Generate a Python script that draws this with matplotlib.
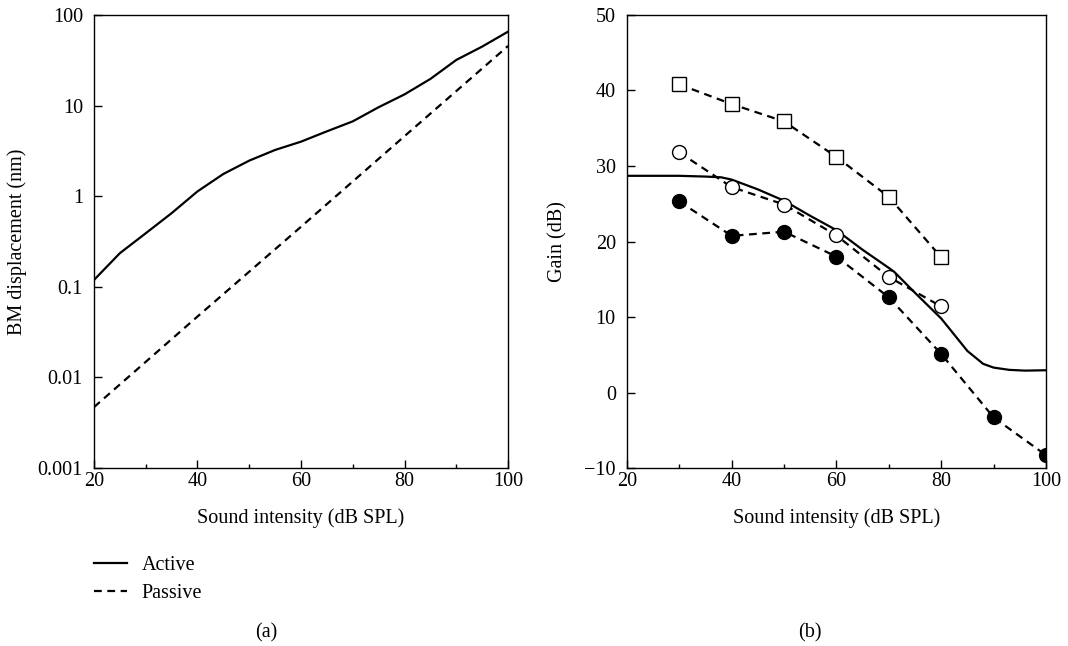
import numpy as np
import matplotlib
matplotlib.use('Agg')
from matplotlib import pyplot as plt
from matplotlib.ticker import MultipleLocator, NullLocator, FixedFormatter

plt.rcParams['font.family'] = ['Liberation Serif', 'DejaVu Serif']
plt.rcParams['font.size'] = 14.5

# (a) BM displacement vs sound intensity
x_active = [20, 25, 30, 35, 40, 45, 50, 55, 60, 65, 70, 75, 80, 85, 90, 95, 100]
bm_active = [0.119, 0.235, 0.39, 0.65, 1.13, 1.76, 2.47, 3.24, 4.0, 5.2, 6.7, 9.6,
             13.3, 19.7, 31.9, 44.8, 65.5]
x_passive = [20, 40, 60, 80, 100]
bm_passive = [0.0047, 0.047, 0.46, 4.6, 45.5]

# (b) gain vs sound intensity
x_model = [20, 30, 35, 38, 40, 45, 50, 55, 60, 65, 70, 71, 75, 80, 85, 88, 90, 93, 96, 100]
gain_model = [28.7, 28.7, 28.6, 28.5, 28.2, 26.9, 25.4, 23.4, 21.5, 18.9, 16.5, 16.0,
              13.2, 9.8, 5.5, 3.8, 3.3, 3.0, 2.9, 2.95]
x_sq = [30, 40, 50, 60, 70, 80]
gain_sq = [40.8, 38.2, 35.9, 31.2, 25.9, 17.9]
x_oc = [30, 40, 50, 60, 70, 80]
gain_oc = [31.8, 27.2, 24.9, 20.8, 15.3, 11.4]
x_fc = [30, 40, 50, 60, 70, 80, 90, 100]
gain_fc = [25.3, 20.75, 21.3, 18.0, 12.6, 5.1, -3.3, -8.3]

dash = (0, (3.5, 2.5))

fig = plt.figure(figsize=(10.68, 6.46), dpi=100)
ax1 = fig.add_axes([0.088, 0.2755, 0.3877, 0.7013])
ax2 = fig.add_axes([0.587, 0.2755, 0.3924, 0.7013])

l1, = ax1.plot(x_active, bm_active, color='black', lw=1.6, label='Active')
l2, = ax1.plot(x_passive, bm_passive, color='black', lw=1.6, ls=dash, label='Passive')
ax1.set_yscale('log')
ax1.set_xlim(20, 100)
ax1.set_ylim(0.001, 100)
ax1.set_yticks([0.001, 0.01, 0.1, 1, 10, 100])
ax1.yaxis.set_major_formatter(FixedFormatter(['0.001', '0.01', '0.1', '1', '10', '100']))
ax1.yaxis.set_minor_locator(NullLocator())
ax1.set_ylabel('BM displacement (nm)', labelpad=8)
ax1.set_xlabel('Sound intensity (dB SPL)', labelpad=12)

ax2.plot(x_model, gain_model, color='black', lw=1.6)
ax2.plot(x_sq, gain_sq, color='black', lw=1.6, ls=dash, marker='s', ms=10,
         mfc='white', mec='black', mew=1.0)
ax2.plot(x_oc, gain_oc, color='black', lw=1.6, ls=dash, marker='o', ms=10,
         mfc='white', mec='black', mew=1.0)
ax2.plot(x_fc, gain_fc, color='black', lw=1.6, ls=dash, marker='o', ms=10,
         mfc='black', mec='black')
ax2.set_xlim(20, 100)
ax2.set_ylim(-10, 50)
ax2.yaxis.set_major_locator(MultipleLocator(10))
ax2.set_ylabel('Gain (dB)', labelpad=12)
ax2.set_xlabel('Sound intensity (dB SPL)', labelpad=12)

for ax in (ax1, ax2):
    ax.xaxis.set_major_locator(MultipleLocator(20))
    ax.xaxis.set_minor_locator(MultipleLocator(10))
    ax.tick_params(which='major', direction='in', length=6, width=1)
    ax.tick_params(which='minor', direction='in', length=3, width=1)
    ax.tick_params(axis='x', pad=3)
    ax.tick_params(axis='y', pad=8)
    for s in ax.spines.values():
        s.set_linewidth(1.0)

fig.legend(handles=[l1, l2], loc='upper left', bbox_to_anchor=(0.088, 0.139),
           frameon=False, borderpad=0, borderaxespad=0, handlelength=1.65,
           handletextpad=0.7, labelspacing=0.45)

fig.text(0.249, 0.02, '(a)', ha='center', va='center')
fig.text(0.758, 0.02, '(b)', ha='center', va='center')

fig.savefig('out.png', dpi=100)
